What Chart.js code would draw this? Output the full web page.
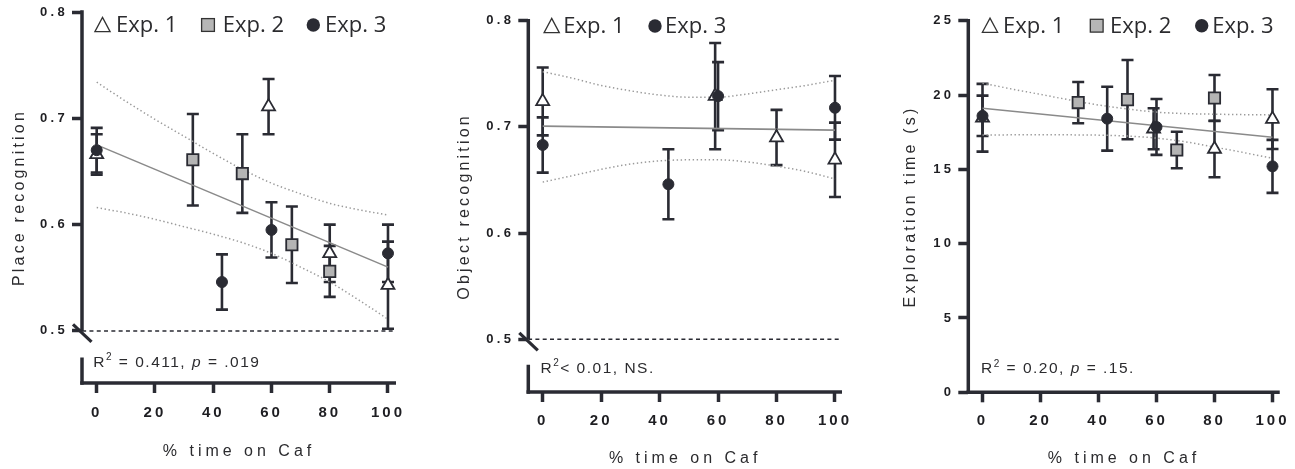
<!DOCTYPE html>
<html>
<head>
<meta charset="utf-8">
<title>Recognition and exploration vs. % time on Caf</title>
<script src="https://cdn.jsdelivr.net/npm/chart.js@4.4.1/dist/chart.umd.min.js"></script>
<style>
  html, body { margin: 0; padding: 0; background: #fff; }
  body { position: relative; width: 1295px; height: 469px; overflow: hidden; }
  canvas { position: absolute; top: 0; }
</style>
</head>
<body>
<canvas id="place" width="420" height="469" style="left:0px"></canvas>
<canvas id="object" width="420" height="469" style="left:440px"></canvas>
<canvas id="explore" width="420" height="469" style="left:875px"></canvas>
<script>
const INK = '#2a2b33';
const TEXT = '#2b2b2e';
const SANS = '"Liberation Sans", Arial, Helvetica, sans-serif';
const LEGEND_FONT = '"Open Sans", "Noto Sans", sans-serif';

// ---- shared x values ----
const xTicks = [0, 20, 40, 60, 80, 100];
const bandX = [0, 10, 20, 30, 40, 50, 60, 70, 80, 90, 100];
const fitX = [0, 100];
const chanceX = [-5, 101.6];
const chanceY = [0.5, 0.5];

// ---- Place recognition ----
const placeTicks = [0.5, 0.6, 0.7, 0.8];
const placeExp1X = [0, 59, 80, 100];
const placeExp1Y = [0.666, 0.711, 0.573, 0.543];
const placeExp1Err = [0.019, 0.026, 0.027, 0.041];
const placeExp2X = [33, 50, 67, 80];
const placeExp2Y = [0.661, 0.648, 0.581, 0.556];
const placeExp2Err = [0.043, 0.037, 0.036, 0.024];
const placeExp3X = [0, 43, 60, 100];
const placeExp3Y = [0.670, 0.546, 0.595, 0.573];
const placeExp3Err = [0.021, 0.026, 0.026, 0.027];
const placeFitY = [0.675, 0.560];
const placeUpper = [0.734, 0.716, 0.699, 0.683, 0.667, 0.652, 0.639, 0.629, 0.620, 0.614, 0.609];
const placeLower = [0.616, 0.611, 0.605, 0.598, 0.591, 0.583, 0.573, 0.560, 0.546, 0.529, 0.511];

// ---- Object recognition ----
const objectTicks = [0.5, 0.6, 0.7, 0.8];
const objectExp1X = [0, 59, 80, 100];
const objectExp1Y = [0.724, 0.729, 0.690, 0.669];
const objectExp1Err = [0.032, 0.050, 0.026, 0.035];
const objectExp3X = [0, 43, 60, 100];
const objectExp3Y = [0.683, 0.646, 0.729, 0.718];
const objectExp3Err = [0.026, 0.033, 0.032, 0.030];
const objectFitY = [0.7007, 0.697];
const objectUpper = [0.752, 0.746, 0.739, 0.734, 0.730, 0.728, 0.728, 0.731, 0.735, 0.739, 0.744];
const objectLower = [0.648, 0.654, 0.660, 0.665, 0.668, 0.669, 0.669, 0.667, 0.663, 0.658, 0.651];

// ---- Exploration time (s) ----
const exploreTicks = [0, 5, 10, 15, 20, 25];
const exploreExp1X = [0, 59, 80, 100];
const exploreExp1Y = [18.47, 17.73, 16.37, 18.38];
const exploreExp1Err = [2.28, 1.38, 1.90, 2.01];
const exploreExp2X = [33, 50, 67, 80];
const exploreExp2Y = [19.49, 19.69, 16.30, 19.80];
const exploreExp2Err = [1.39, 2.67, 1.23, 1.55];
const exploreExp3X = [0, 43, 60, 100];
const exploreExp3Y = [18.60, 18.41, 17.85, 15.20];
const exploreExp3Err = [1.36, 2.15, 1.88, 1.78];
const exploreFitY = [19.11, 17.16];
const exploreUpper = [20.79, 20.41, 20.04, 19.67, 19.33, 19.06, 18.85, 18.75, 18.71, 18.68, 18.66];
const exploreLower = [17.31, 17.32, 17.33, 17.32, 17.30, 17.24, 17.10, 16.85, 16.50, 16.13, 15.75];

// ---- styles ----
const triStyle = { pointStyle: 'triangle', pointRadius: 7.5, pointBackgroundColor: '#fff', pointBorderColor: INK, pointBorderWidth: 1.8 };
const sqStyle = { pointStyle: 'rect', pointRadius: 8, pointBackgroundColor: '#b4b4b4', pointBorderColor: INK, pointBorderWidth: 1.8 };
const dotStyle = { pointStyle: 'circle', pointRadius: 5.5, pointBackgroundColor: INK, pointBorderColor: INK, pointBorderWidth: 1 };
const fitStyle = { borderColor: '#8a8a8a', borderWidth: 1.6 };
const bandStyle = { borderColor: '#9a9a9a', borderWidth: 1.5, borderDash: [1.4, 2.6], cubicInterpolationMode: 'monotone' };
const chanceStyle = { borderColor: INK, borderWidth: 1.5, borderDash: [4, 3.3] };

const pts = (xs, ys) => xs.map((x, i) => ({ x, y: ys[i] }));
const markers = (label, xs, ys, errs, style) =>
  Object.assign({ label, data: pts(xs, ys), errors: errs, showLine: false }, style);
const curve = (xs, ys, style) =>
  Object.assign({ data: pts(xs, ys), showLine: true, pointRadius: 0, fill: false }, style);

const PANELS = {
  place: {
    yTitle: 'Place recognition', yMin: 0.451, yMax: 0.8, yTicks: placeTicks, yFmt: v => v.toFixed(1),
    area: { left: 82, right: 396, top: 12, bottom: 383 }, xMin: -5.05, xMax: 102.75,
    yBreak: { at: 0.5, resume: 0.475 }, yTitlePad: 10.4, xTitlePad: 7.5, xTickPad: 11.3,
    datasets: [
      markers('Exp. 3', placeExp3X, placeExp3Y, placeExp3Err, dotStyle),
      markers('Exp. 2', placeExp2X, placeExp2Y, placeExp2Err, sqStyle),
      markers('Exp. 1', placeExp1X, placeExp1Y, placeExp1Err, triStyle),
      curve(fitX, placeFitY, fitStyle),
      curve(bandX, placeUpper, bandStyle),
      curve(bandX, placeLower, bandStyle),
      curve(chanceX, chanceY, chanceStyle)
    ],
    legend: { baseline: 32.3, cy: 25, items: [
      { shape: 'tri', cx: 102.5, tx: 116, label: 'Exp. 1' },
      { shape: 'sq', cx: 208, tx: 222.7, label: 'Exp. 2' },
      { shape: 'dot', cx: 313.3, tx: 325, label: 'Exp. 3' }
    ] },
    note: { x: 93.3, y: 366.7, parts: [['R'], ['2', 'sup'], [' = 0.411, '], ['p', 'it'], [' = .019']] }
  },
  object: {
    yTitle: 'Object recognition', yMin: 0.4504, yMax: 0.8, yTicks: objectTicks, yFmt: v => v.toFixed(1),
    area: { left: 88.3, right: 402, top: 20.7, bottom: 392 }, xMin: -4.93, xMax: 102.4,
    yBreak: { at: 0.5, resume: 0.476 }, yTitlePad: 15.4, xTitlePad: 0.5, xTickPad: 10,
    datasets: [
      markers('Exp. 3', objectExp3X, objectExp3Y, objectExp3Err, dotStyle),
      markers('Exp. 1', objectExp1X, objectExp1Y, objectExp1Err, triStyle),
      curve(fitX, objectFitY, fitStyle),
      curve(bandX, objectUpper, bandStyle),
      curve(bandX, objectLower, bandStyle),
      curve(chanceX, chanceY, chanceStyle)
    ],
    legend: { baseline: 33.3, cy: 26, items: [
      { shape: 'tri', cx: 111.7, tx: 123.3, label: 'Exp. 1' },
      { shape: 'dot', cx: 215, tx: 225, label: 'Exp. 3' }
    ] },
    note: { x: 100.5, y: 372.7, parts: [['R'], ['2', 'sup'], ['< 0.01, NS.']] }
  },
  explore: {
    yTitle: 'Exploration time (s)', yMin: 0, yMax: 25, yTicks: exploreTicks, yFmt: v => String(v),
    area: { left: 93.3, right: 407.3, top: 20.7, bottom: 392.3 }, xMin: -4.9, xMax: 102.5,
    yBreak: null, yTitlePad: 26, xTitlePad: 0.5, xTickPad: 9.7,
    datasets: [
      markers('Exp. 3', exploreExp3X, exploreExp3Y, exploreExp3Err, dotStyle),
      markers('Exp. 2', exploreExp2X, exploreExp2Y, exploreExp2Err, sqStyle),
      markers('Exp. 1', exploreExp1X, exploreExp1Y, exploreExp1Err, triStyle),
      curve(fitX, exploreFitY, fitStyle),
      curve(bandX, exploreUpper, bandStyle),
      curve(bandX, exploreLower, bandStyle)
    ],
    legend: { baseline: 32.7, cy: 25.7, items: [
      { shape: 'tri', cx: 115, tx: 128, label: 'Exp. 1' },
      { shape: 'sq', cx: 221.7, tx: 235, label: 'Exp. 2' },
      { shape: 'dot', cx: 326.7, tx: 337.3, label: 'Exp. 3' }
    ] },
    note: { x: 106, y: 373.3, parts: [['R'], ['2', 'sup'], [' = 0.20, '], ['p', 'it'], [' = .15.']] }
  }
};

// Tick labels and axis titles are drawn with wide tracking.
const SPACING = { tick: { x: '3px', y: '3.3px' }, title: { x: '4px', y: '3.2px' } };
const spacedText = {
  id: 'spacedText',
  beforeDraw(chart) {
    for (const s of Object.values(chart.scales)) {
      if (s.$spaced) continue;
      s.$spaced = true;
      const labels = s.drawLabels, title = s.drawTitle;
      s.drawLabels = function (area) {
        this.ctx.save(); this.ctx.letterSpacing = SPACING.tick[this.axis];
        labels.call(this, area); this.ctx.restore();
      };
      s.drawTitle = function () {
        this.ctx.save(); this.ctx.letterSpacing = SPACING.title[this.axis];
        title.call(this); this.ctx.restore();
      };
    }
  }
};

// Thick axis lines, with a broken y axis below the chance level.
const axisFrame = {
  id: 'axisFrame',
  beforeDatasetsDraw(chart) {
    const cfg = PANELS[chart.canvas.id];
    const { ctx, chartArea: a, scales: { y } } = chart;
    const w = 3.5;
    ctx.save();
    ctx.strokeStyle = INK; ctx.lineCap = 'butt'; ctx.lineWidth = w;
    const top = y.getPixelForValue(cfg.yMax) - w / 2;
    ctx.beginPath();
    if (cfg.yBreak) {
      const yb = y.getPixelForValue(cfg.yBreak.at);
      const yr = y.getPixelForValue(cfg.yBreak.resume);
      ctx.moveTo(a.left, top); ctx.lineTo(a.left, yb);
      ctx.moveTo(a.left, yr); ctx.lineTo(a.left, a.bottom + w / 2);
      ctx.stroke();
      ctx.lineWidth = 3.2;
      ctx.beginPath();
      ctx.moveTo(a.left - 9, yb - 6.5); ctx.lineTo(a.left + 9.5, yb + 11);
      ctx.stroke();
    } else {
      ctx.moveTo(a.left, top); ctx.lineTo(a.left, a.bottom + w / 2);
      ctx.stroke();
    }
    ctx.lineWidth = w;
    ctx.beginPath();
    ctx.moveTo(a.left - w / 2, a.bottom); ctx.lineTo(a.right, a.bottom);
    ctx.stroke();
    ctx.restore();
  }
};

// Mean ± SEM whiskers with caps, under the markers.
const errorBars = {
  id: 'errorBars',
  beforeDatasetsDraw(chart) {
    const { ctx, scales: { x, y } } = chart;
    ctx.save();
    ctx.strokeStyle = INK; ctx.lineWidth = 2.6; ctx.lineCap = 'butt';
    chart.data.datasets.forEach(ds => {
      if (!ds.errors) return;
      ds.data.forEach((p, i) => {
        const e = ds.errors[i];
        const px = x.getPixelForValue(p.x);
        const hi = y.getPixelForValue(p.y + e), lo = y.getPixelForValue(p.y - e);
        ctx.beginPath();
        ctx.moveTo(px, hi); ctx.lineTo(px, lo);
        ctx.moveTo(px - 6, hi); ctx.lineTo(px + 6, hi);
        ctx.moveTo(px - 6, lo); ctx.lineTo(px + 6, lo);
        ctx.stroke();
      });
    });
    ctx.restore();
  }
};

// Inline legend row and the regression statistics.
const annotations = {
  id: 'annotations',
  afterDraw(chart) {
    const cfg = PANELS[chart.canvas.id];
    const ctx = chart.ctx;
    ctx.save();
    const lg = cfg.legend;
    ctx.font = `22px ${LEGEND_FONT}`;
    ctx.fillStyle = TEXT; ctx.textAlign = 'left'; ctx.textBaseline = 'alphabetic';
    for (const it of lg.items) {
      const cx = it.cx, cy = lg.cy;
      ctx.save();
      ctx.lineWidth = 1.3; ctx.strokeStyle = '#333';
      if (it.shape === 'tri') {
        ctx.beginPath();
        ctx.moveTo(cx, cy - 7.6); ctx.lineTo(cx + 7.6, cy + 6.6); ctx.lineTo(cx - 7.6, cy + 6.6);
        ctx.closePath(); ctx.stroke();
      } else if (it.shape === 'sq') {
        ctx.fillStyle = '#b6b6b6';
        ctx.fillRect(cx - 6.4, cy - 6.4, 12.8, 12.8);
        ctx.strokeRect(cx - 6.4, cy - 6.4, 12.8, 12.8);
      } else {
        ctx.fillStyle = INK;
        ctx.beginPath(); ctx.arc(cx, cy, 6.7, 0, Math.PI * 2); ctx.fill();
      }
      ctx.restore();
      ctx.fillText(it.label, it.tx, lg.baseline);
    }
    const n = cfg.note;
    ctx.letterSpacing = '1.5px';
    let x = n.x;
    for (const [t, kind] of n.parts) {
      let y = n.y;
      if (kind === 'sup') { ctx.font = `10px ${SANS}`; y -= 6.5; }
      else if (kind === 'it') ctx.font = `italic 15.5px ${SANS}`;
      else ctx.font = `15.5px ${SANS}`;
      ctx.fillText(t, x, y);
      x += ctx.measureText(t).width;
    }
    ctx.restore();
  }
};

for (const [id, cfg] of Object.entries(PANELS)) {
  const canvas = document.getElementById(id);
  const W = canvas.width, H = canvas.height, a = cfg.area;
  new Chart(canvas, {
    type: 'scatter',
    data: { datasets: cfg.datasets },
    plugins: [spacedText, axisFrame, errorBars, annotations],
    options: {
      responsive: false, animation: false, events: [],
      layout: { padding: { left: 0, top: a.top, right: W - a.right, bottom: 0 } },
      plugins: { legend: { display: false }, tooltip: { enabled: false } },
      scales: {
        x: {
          type: 'linear', min: cfg.xMin, max: cfg.xMax,
          afterBuildTicks: s => { s.ticks = xTicks.map(v => ({ value: v })); },
          afterFit: s => { s.height = H - a.bottom; },
          grid: { display: true, drawOnChartArea: false, drawTicks: true, tickLength: 10, tickWidth: 3.5, tickColor: INK },
          border: { display: false },
          ticks: { color: '#1e1e22', autoSkip: false, maxRotation: 0, padding: cfg.xTickPad,
                   font: { family: SANS, size: 15, weight: 'bold' }, callback: v => String(v) },
          title: { display: true, text: '% time on Caf', color: TEXT,
                   font: { family: SANS, size: 16 }, padding: { top: 0, bottom: cfg.xTitlePad } }
        },
        y: {
          type: 'linear', min: cfg.yMin, max: cfg.yMax,
          afterBuildTicks: s => { s.ticks = cfg.yTicks.map(v => ({ value: v })); },
          afterFit: s => { s.width = a.left; },
          grid: { display: true, drawOnChartArea: false, drawTicks: true, tickLength: 10, tickWidth: 3.5, tickColor: INK },
          border: { display: false },
          ticks: { color: '#1e1e22', autoSkip: false, padding: 4,
                   font: { family: SANS, size: 13, weight: 'bold' }, callback: v => cfg.yFmt(v) },
          title: { display: true, text: cfg.yTitle, color: TEXT,
                   font: { family: SANS, size: 16 }, padding: { top: cfg.yTitlePad, bottom: 0 } }
        }
      }
    }
  });
}
</script>
</body>
</html>
